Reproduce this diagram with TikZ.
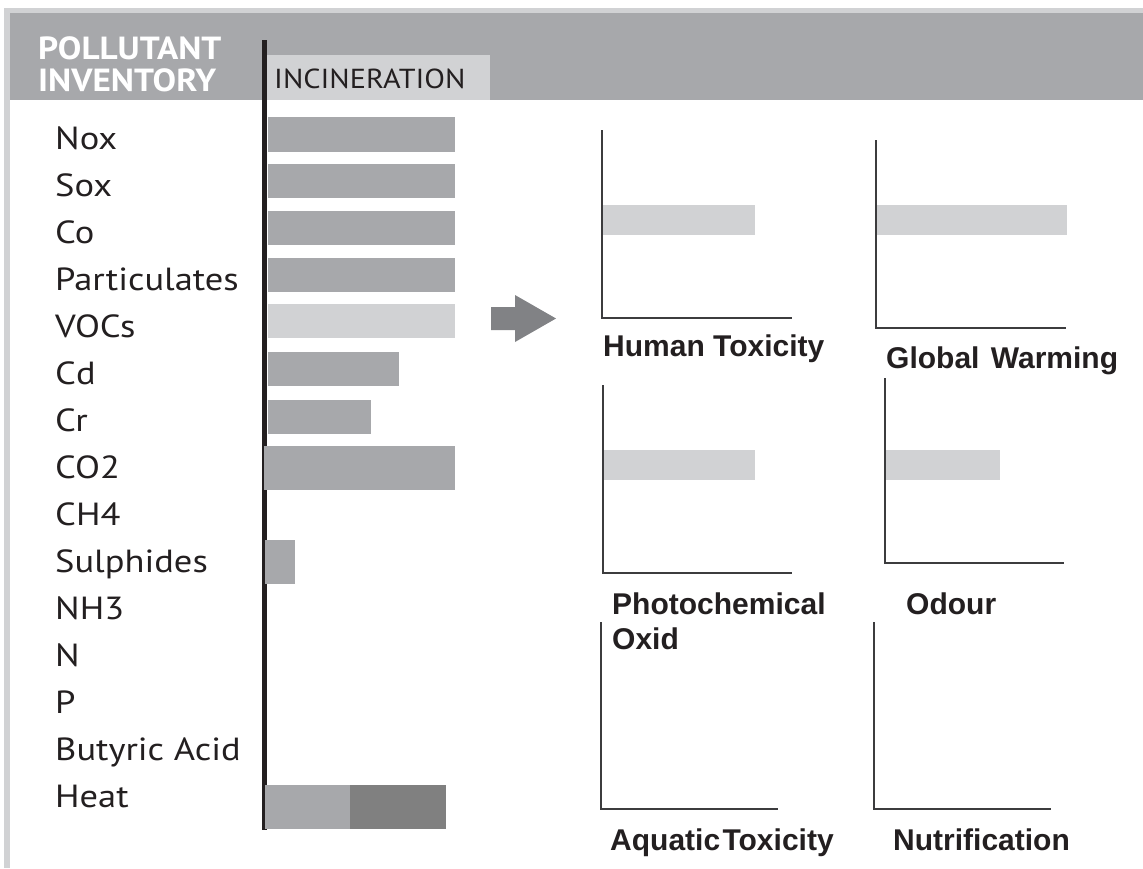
\documentclass[tikz,border=0pt]{standalone}
\usepackage{fontspec}
\setmainfont{Liberation Sans}
\newfontfamily\hum[FakeStretch=1.14]{PT Sans}
\newfontfamily\humh[FakeStretch=1.1]{PT Sans}
\definecolor{lg}{HTML}{D1D2D4}
\definecolor{mg}{HTML}{A7A8AB}
\definecolor{dg}{HTML}{808080}
\definecolor{ag}{HTML}{818285}
\definecolor{ink}{HTML}{231F20}
\definecolor{axc}{HTML}{3C3C3E}
\begin{document}
\begin{tikzpicture}[x=1pt,y=-1pt,
  hdr/.style={font=\humh\bfseries\fontsize{32}{32}\selectfont, text=white, inner sep=0pt, anchor=base west},
  inc/.style={font=\humh\fontsize{27.5}{27.5}\selectfont, text=ink, inner sep=0pt, anchor=base west},
  item/.style={font=\hum\fontsize{32}{32}\selectfont, text=ink, inner sep=0pt, anchor=base west},
  ctitle/.style={font=\bfseries\fontsize{30}{35}\selectfont, text=ink, inner sep=0pt, anchor=base west, align=left},
  axis/.style={draw=axc, line width=2pt},
  barm/.style={fill=mg},
  barl/.style={fill=lg}]
\useasboundingbox (0,0) rectangle (1143,868);
\fill[white] (0,0) rectangle (1143,868);
% frame and header
\fill[lg] (4,8) rectangle (1143,13);
\fill[lg] (4,8) rectangle (10,868);
\fill[mg] (10,13) rectangle (1143,100);
\node[hdr] (pol) at (38,59) {POLLUTANT};
\node[hdr] (inv) at (38,91) {INVENTORY};
\fill[lg] (267,55) rectangle (490,100);
\node[inc] (incin) at (274,88) {INCINERATION};
% vertical line
\fill[ink] (262,40) rectangle (267,830);
% inventory labels
\foreach \t [count=\i from 0] in {Nox,Sox,Co,Particulates,VOCs,Cd,Cr,CO2,CH4,Sulphides,NH3,N,P,Butyric Acid,Heat}
  \node[item] (lab\i) at (55,{149.5+47*\i}) {\t};
% bars
\fill[barm] (268,117) rectangle (455,152);
\fill[barm] (268,164) rectangle (455,198);
\fill[barm] (268,211) rectangle (455,245);
\fill[barm] (268,258) rectangle (455,292);
\fill[barl] (268,304) rectangle (455,338);
\fill[barm] (268,352) rectangle (399,386);
\fill[barm] (268,400) rectangle (371,434);
\fill[barm] (264,446) rectangle (455,490);
\fill[barm] (265,540) rectangle (295,584);
\fill[barm] (265,785) rectangle (350,829);
\fill[dg] (350,785) rectangle (446,829);
% arrow
\fill[ag] (491,307) -- (515,307) -- (515,295) -- (556,318.5) -- (515,342) -- (515,330) -- (491,330) -- cycle;
% charts
\fill[barl] (603,205) rectangle (755,235);
\draw[axis] (602,130) -- (602,318) -- (792,318);
\fill[barl] (877,205) rectangle (1067,235);
\draw[axis] (876,140) -- (876,328) -- (1066,328);
\fill[barl] (604,450) rectangle (755,480);
\draw[axis] (603,385) -- (603,573) -- (792,573);
\fill[barl] (886,450) rectangle (1000,480);
\draw[axis] (885,378) -- (885,563) -- (1064,563);
\draw[axis] (601,622) -- (601,809) -- (778,809);
\draw[axis] (874,622) -- (874,809) -- (1051,809);
% chart titles
\node[ctitle] (ht) at (603,356) {Human Toxicity};
\node[ctitle] (gw) at (886,368) {Global\hspace{0.1em} Warming};
\node[ctitle] (po) at (612,649) {Photochemical\\Oxid};
\node[ctitle] (od) at (906,614) {Odour};
\node[ctitle] (aq) at (610,850) {Aquatic\hspace{-0.2em} Toxicity};
\node[ctitle] (nu) at (893,850) {Nutrification};
\end{tikzpicture}
\end{document}
